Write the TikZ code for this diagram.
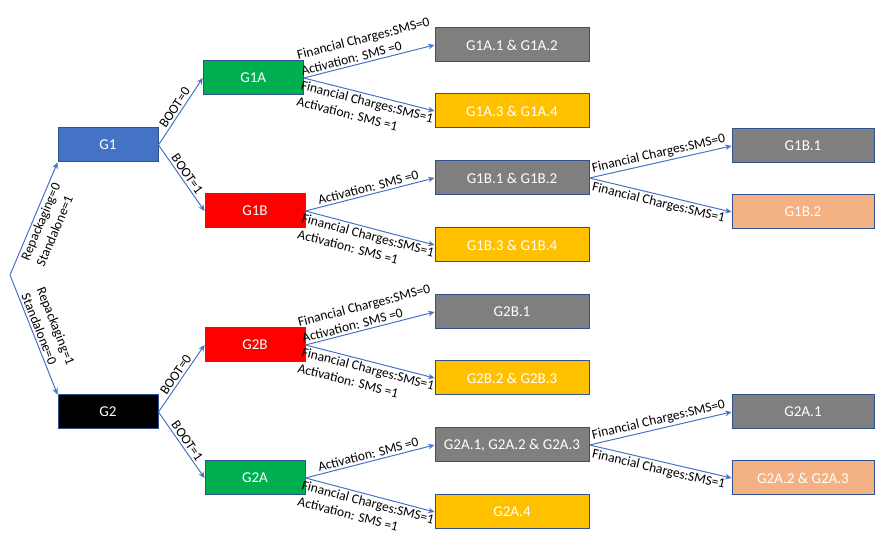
\documentclass[tikz,border=0pt]{standalone}
\usepackage{fontspec}
\setmainfont{Carlito}
\usepackage{tikz}
\usetikzlibrary{arrows.meta,positioning}
\definecolor{bleuFleche}{RGB}{68,114,196}
\definecolor{bleuBord}{RGB}{47,82,143}
\definecolor{bleuG}{RGB}{68,114,196}
\definecolor{vertG}{RGB}{0,176,80}
\definecolor{rougeG}{RGB}{255,0,0}
\definecolor{grisG}{RGB}{127,127,127}
\definecolor{orG}{RGB}{255,192,0}
\definecolor{saumonG}{RGB}{244,177,131}

\begin{document}
\begin{tikzpicture}[font=\fontsize{9.6}{11.8}\selectfont,
  boite/.style={draw=bleuBord, line width=0.7pt, text=white, minimum height=0.85cm,
                inner sep=0pt, font=\fontsize{10.7}{12.8}\selectfont},
  petite/.style={boite, minimum width=2.5cm},
  moyenne/.style={boite, minimum width=3.85cm},
  grande/.style={boite, minimum width=3.55cm},
  fleche/.style={-{Stealth[length=4.5pt,width=4pt]}, bleuFleche, line width=0.7pt},
  etiq/.style={midway, sloped, align=left, inner sep=1.5pt, text=black}]

\useasboundingbox (0,0) rectangle (21.9,13.55);

\coordinate (racine) at (0.25,6.675);
\node[petite, fill=bleuG] (G1) at (2.7,9.925) {G1};
\node[petite, fill=black] (G2) at (2.7,3.25) {G2};

\node[petite, fill=vertG] (G1A) at (6.33,11.6) {G1A};
\node[petite, fill=rougeG] (G1B) at (6.375,8.275) {G1B};
\node[petite, fill=rougeG] (G2B) at (6.375,4.925) {G2B};
\node[petite, fill=vertG] (G2A) at (6.375,1.6) {G2A};

\node[moyenne, fill=grisG] (G1A12) at (12.8,12.425) {G1A.1 \& G1A.2};
\node[moyenne, fill=orG] (G1A34) at (12.8,10.775) {G1A.3 \& G1A.4};
\node[moyenne, fill=grisG] (G1B12) at (12.8,9.1) {G1B.1 \& G1B.2};
\node[moyenne, fill=orG] (G1B34) at (12.8,7.425) {G1B.3 \& G1B.4};
\node[moyenne, fill=grisG] (G2B1) at (12.8,5.75) {G2B.1};
\node[moyenne, fill=orG] (G2B23) at (12.8,4.1) {G2B.2 \& G2B.3};
\node[moyenne, fill=grisG] (G2A123) at (12.8,2.425) {G2A.1, G2A.2 \& G2A.3};
\node[moyenne, fill=orG] (G2A4) at (12.8,0.75) {G2A.4};

\node[grande, fill=grisG] (G1B1) at (20.075,9.9) {G1B.1};
\node[grande, fill=saumonG] (G1B2) at (20.075,8.25) {G1B.2};
\node[grande, fill=grisG] (G2A1) at (20.075,3.25) {G2A.1};
\node[grande, fill=saumonG] (G2A23) at (20.075,1.6) {G2A.2 \& G2A.3};

\draw[fleche] (racine) -- (G1.south west) node[etiq, below] {Repackaging=0\\Standalone=1};
\draw[fleche] (racine) -- (G2.north west) node[etiq, above] {Repackaging=1\\Standalone=0};

\draw[fleche] (G1.east) -- (G1A.west) node[etiq, above] {BOOT=0};
\draw[fleche] (G1.east) -- (G1B.west) node[etiq, above] {BOOT=1};
\draw[fleche] (G2.east) -- (G2B.west) node[etiq, above] {BOOT=0};
\draw[fleche] (G2.east) -- (G2A.west) node[etiq, above] {BOOT=1};

\draw[fleche] (G1A.east) -- (G1A12.west) node[etiq, above] {Financial Charges:SMS=0\\Activation: SMS =0};
\draw[fleche] (G1A.east) -- (G1A34.west) node[etiq, below] {Financial Charges:SMS=1\\Activation: SMS =1};
\draw[fleche] (G1B.east) -- (G1B12.west) node[etiq, above] {Activation: SMS =0};
\draw[fleche] (G1B.east) -- (G1B34.west) node[etiq, below] {Financial Charges:SMS=1\\Activation: SMS =1};
\draw[fleche] (G2B.east) -- (G2B1.west) node[etiq, above] {Financial Charges:SMS=0\\Activation: SMS =0};
\draw[fleche] (G2B.east) -- (G2B23.west) node[etiq, below] {Financial Charges:SMS=1\\Activation: SMS =1};
\draw[fleche] (G2A.east) -- (G2A123.west) node[etiq, above] {Activation: SMS =0};
\draw[fleche] (G2A.east) -- (G2A4.west) node[etiq, below] {Financial Charges:SMS=1\\Activation: SMS =1};

\draw[fleche] (G1B12.east) -- (G1B1.west) node[etiq, above] {Financial Charges:SMS=0};
\draw[fleche] (G1B12.east) -- (G1B2.west) node[etiq, below] {Financial Charges:SMS=1};
\draw[fleche] (G2A123.east) -- (G2A1.west) node[etiq, above] {Financial Charges:SMS=0};
\draw[fleche] (G2A123.east) -- (G2A23.west) node[etiq, below] {Financial Charges:SMS=1};

\end{tikzpicture}
\end{document}
